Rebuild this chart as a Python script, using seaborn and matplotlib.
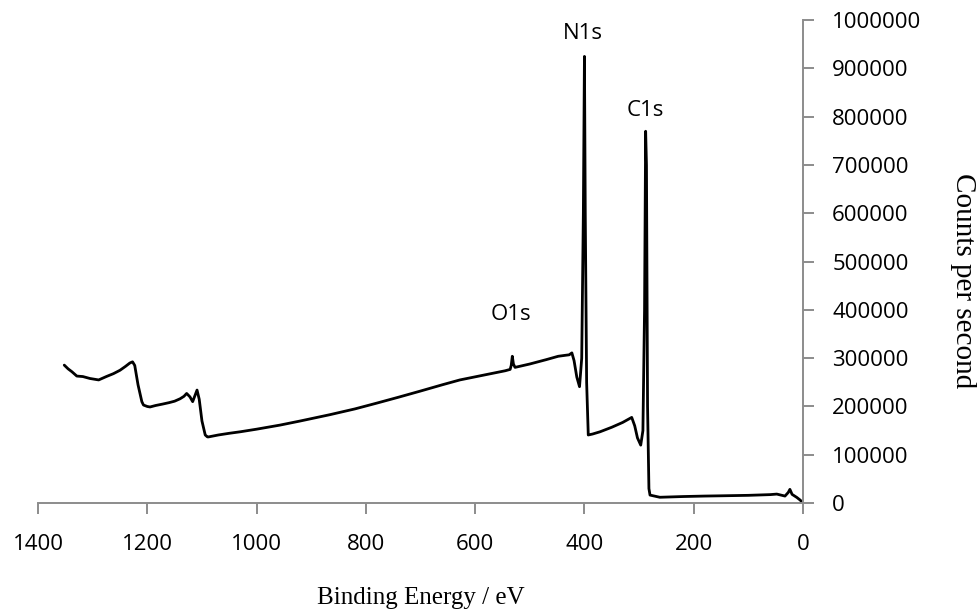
import matplotlib

matplotlib.use("Agg")
import matplotlib.pyplot as plt
import seaborn as sns
from matplotlib.ticker import FuncFormatter

# XPS survey spectrum
binding_energy = [
    1352, 1345, 1338, 1329, 1318, 1305, 1289, 1275, 1262, 1250, 1240, 1232,
    1227, 1223, 1217, 1210, 1207, 1200, 1195, 1185, 1172, 1160, 1150, 1140,
    1133, 1128, 1122, 1117, 1113, 1109, 1105, 1100, 1094, 1090, 1088, 1070,
    1050, 1030, 1000, 957, 920, 866, 820, 780, 741, 700, 660, 628, 580, 545,
    536, 534, 532, 530, 527, 500, 470, 448, 435, 428, 423, 419, 414, 409, 405,
    402, 400, 398.5, 396, 393, 385, 371.5, 350, 330, 313.5, 308, 303, 297,
    293, 290, 288, 286.5, 284.5, 282, 280, 262, 220, 180, 152, 100, 60, 48,
    33, 27, 24, 20, 11.5, 5, 0,
]
counts = [
    285700, 278000, 272000, 263000, 262000, 258000, 255000, 262000, 268000,
    275000, 283000, 290000, 292500, 285000, 245000, 210000, 203000, 200000,
    199000, 202000, 205000, 208000, 211000, 216000, 221000, 227000, 220000,
    210000, 222000, 234000, 215000, 170000, 141000, 137000, 137000, 141000,
    144500, 147600, 153000, 161500, 170000, 183000, 195000, 207000, 219000,
    232000, 245000, 255000, 266000, 274000, 276800, 285000, 304000, 288000,
    281000, 288000, 297000, 304000, 306000, 307000, 311000, 295000, 261000,
    241000, 300000, 600000, 925000, 600000, 250000, 141000, 143000, 147600,
    157000, 167000, 177400, 160000, 135000, 120000, 150000, 400000, 770000,
    700000, 200000, 30000, 16500, 12000, 13500, 14500, 15000, 16000, 17500,
    18600, 14500, 22000, 28400, 18000, 11800, 6000, 0,
]

x_ticks = [1400, 1200, 1000, 800, 600, 400, 200, 0]
y_ticks = [0, 100000, 200000, 300000, 400000, 500000, 600000, 700000, 800000, 900000, 1000000]

peak_labels = ["O1s", "N1s", "C1s"]
peak_label_x = [534, 403, 289]
peak_label_y = [391000, 973000, 814000]

sns.set_style("white")
plt.rcParams["font.family"] = ["Open Sans", "DejaVu Sans"]

axis_grey = "#8c8c8c"
serif = ["Liberation Serif", "DejaVu Serif"]

fig = plt.figure(figsize=(9.8, 6.12), dpi=100)
ax = fig.add_axes([0.0388, 0.178, 0.7806, 0.789])

sns.lineplot(x=binding_energy, y=counts, ax=ax, color="black", linewidth=2.0, sort=False)

ax.set_xlim(1400, 0)
ax.set_ylim(0, 1_000_000)
ax.set_xticks(x_ticks)
ax.set_yticks(y_ticks)
ax.yaxis.set_major_formatter(FuncFormatter(lambda v, _: f"{v:.0f}"))
ax.yaxis.tick_right()

for side in ["top", "left"]:
    ax.spines[side].set_visible(False)
for side in ["right", "bottom"]:
    ax.spines[side].set_color(axis_grey)
    ax.spines[side].set_linewidth(1.4)

ax.tick_params(axis="both", direction="out", length=8, width=1.4, color=axis_grey,
               labelcolor="black", labelsize=16)
ax.tick_params(axis="x", pad=14, bottom=True)
ax.tick_params(axis="y", pad=13, right=True, left=False)

for label, lx, ly in zip(peak_labels, peak_label_x, peak_label_y):
    ax.text(lx, ly, label, ha="center", va="center", fontsize=16, color="black")

ax.set_xlabel("Binding Energy / eV", family=serif, fontsize=18, va="top", color="black")
ax.xaxis.set_label_coords(0.5, -0.174)
ax.yaxis.set_label_position("right")
ax.set_ylabel("Counts per second", family=serif, fontsize=21, rotation=-90,
              va="center", ha="center", color="black")
ax.yaxis.set_label_coords(1.209, 0.461)

fig.savefig("out.png", dpi=100)
